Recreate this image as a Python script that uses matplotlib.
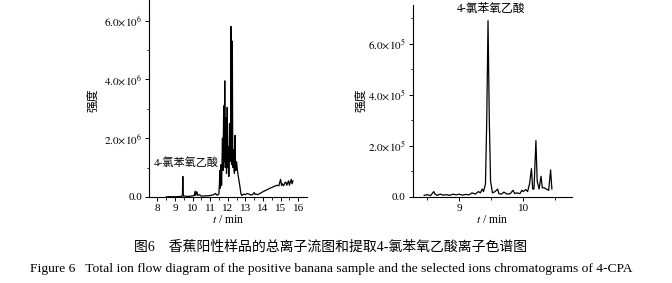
import matplotlib
matplotlib.use("Agg")
import matplotlib.pyplot as plt
from matplotlib.ticker import MultipleLocator, FuncFormatter

plt.rcParams['font.family'] = ['Liberation Serif', 'Noto Sans CJK SC']
plt.rcParams['mathtext.fontset'] = 'stix'

# total ion chromatogram (t in min, intensity in 1e6)
tic_t = [8.5, 8.6, 9.0, 9.4, 9.43, 9.45, 9.47, 9.5, 9.8, 10.1, 10.15, 10.18, 10.2, 10.25,
         10.3, 10.4, 10.5, 10.8, 11.0, 11.2, 11.3, 11.4, 11.5, 11.53, 11.55, 11.58, 11.62,
         11.65, 11.68, 11.7, 11.73, 11.77, 11.8, 11.83, 11.86, 11.88, 11.9, 11.93, 11.95,
         11.97, 12.0, 12.03, 12.06, 12.08, 12.1, 12.13, 12.16, 12.18, 12.2, 12.22, 12.24,
         12.26, 12.28, 12.3, 12.32, 12.34, 12.36, 12.38, 12.4, 12.42, 12.44, 12.46, 12.5,
         12.55, 12.6, 12.68, 12.75, 12.8, 12.9, 13.0, 13.1, 13.2, 13.3, 13.4, 13.5, 13.55,
         13.6, 13.7, 14.0, 14.4, 14.8, 14.9, 14.95, 15.0, 15.05, 15.1, 15.15, 15.2, 15.25,
         15.3, 15.35, 15.4, 15.45, 15.5, 15.55, 15.6, 15.65, 15.7]
tic_i = [0.0, 0.01, 0.01, 0.02, 0.1, 0.7, 0.1, 0.03, 0.02, 0.05, 0.2, 0.06, 0.12, 0.18,
         0.05, 0.08, 0.03, 0.04, 0.05, 0.08, 0.12, 0.06, 0.1, 0.5, 0.9, 0.3, 1.1,
         0.4, 1.4, 2.0, 0.9, 3.1, 1.2, 3.95, 1.0, 1.8, 2.7, 0.8, 1.5,
         3.05, 1.0, 1.7, 0.7, 1.3, 2.5, 1.2, 2.0, 5.8, 1.5, 2.4, 1.1,
         5.3, 1.9, 1.0, 1.4, 1.6, 0.9, 0.8, 1.3, 2.1, 1.0, 0.9, 1.2,
         0.9, 0.7, 0.4, 0.1, 0.05, 0.1, 0.08, 0.12, 0.1, 0.07, 0.08, 0.15, 0.09,
         0.1, 0.08, 0.18, 0.3, 0.4, 0.38, 0.5, 0.6, 0.4, 0.45, 0.38, 0.42, 0.5,
         0.5, 0.4, 0.48, 0.55, 0.4, 0.5, 0.6, 0.45, 0.55]

# extracted ion chromatogram of 4-CPA (intensity in 1e5)
eic_t = [8.45, 8.5, 8.55, 8.6, 8.62, 8.65, 8.7, 8.75, 8.8, 8.85, 8.9, 8.95, 9.0, 9.05,
         9.1, 9.15, 9.2, 9.25, 9.3, 9.33, 9.36, 9.38, 9.41, 9.43, 9.45, 9.47, 9.49, 9.52,
         9.56, 9.6, 9.62, 9.66, 9.7, 9.75, 9.8, 9.84, 9.87, 9.9, 9.95, 9.98, 10.0, 10.04,
         10.07, 10.1, 10.13, 10.15, 10.17, 10.2, 10.22, 10.25, 10.28, 10.3, 10.33, 10.36,
         10.4, 10.43, 10.45]
eic_i = [0.05, 0.08, 0.04, 0.2, 0.1, 0.05, 0.1, 0.06, 0.08, 0.05, 0.1, 0.07, 0.1, 0.06,
         0.09, 0.07, 0.15, 0.1, 0.2, 0.15, 0.3, 0.2, 0.5, 3.0, 6.9, 3.0, 0.6, 0.15,
         0.2, 0.3, 0.12, 0.1, 0.18, 0.1, 0.12, 0.25, 0.12, 0.15, 0.12, 0.25, 0.2, 0.28,
         0.2, 0.5, 1.1, 0.3, 0.3, 2.2, 0.6, 0.3, 0.8, 0.35, 0.35, 0.3,
         0.25, 1.05, 0.3]

compound = "4-氯苯氧乙酸"
ylabel = "强度"
xlabel = r"$\it{t}$ / min"
caption_cn = "图6　香蕉阳性样品的总离子流图和提取4-氯苯氧乙酸离子色谱图"
caption_en = "Figure 6   Total ion flow diagram of the positive banana sample and the selected ions chromatograms of 4-CPA"

fig = plt.figure(figsize=(6.72, 2.83), dpi=100)
ax1 = fig.add_axes([0.2217, 0.3039, 0.2347, 0.6961])
ax2 = fig.add_axes([0.6141, 0.305, 0.2366, 0.676])


def sci_fmt(exp):
    def f(v, pos):
        m = v / 10 ** exp
        if m == 0:
            return "0.0"
        return r"$%.1f{\times}10^{%d}$" % (m, exp)
    return FuncFormatter(f)


def style(ax):
    for s in ['top', 'right']:
        ax.spines[s].set_visible(False)
    for s in ['left', 'bottom']:
        ax.spines[s].set_linewidth(0.8)
    ax.tick_params(axis='both', which='major', direction='out', length=3, width=0.7,
                   labelsize=8, pad=2)
    ax.tick_params(axis='both', which='minor', direction='out', length=1.8, width=0.6)


ax1.plot(tic_t, [v * 1e6 for v in tic_i], color='black', lw=0.9)
ax1.set_xlim(7.53, 16.48)
ax1.set_ylim(0, 6.7e6)
ax1.xaxis.set_major_locator(MultipleLocator(1))
ax1.xaxis.set_minor_locator(MultipleLocator(0.5))
ax1.yaxis.set_major_locator(MultipleLocator(2e6))
ax1.yaxis.set_minor_locator(MultipleLocator(1e6))
ax1.yaxis.set_major_formatter(sci_fmt(6))
style(ax1)
ax1.set_xlabel(xlabel, fontsize=8.5, labelpad=1)
ax1.text(7.8, 1.16e6, compound, fontsize=8, ha='left', va='center')
fig.text(93 / 672, 1 - 100 / 283, ylabel, rotation=90, fontsize=8.5, ha='center', va='center')

ax2.plot(eic_t, [v * 1e5 for v in eic_i], color='black', lw=0.9)
ax2.set_xlim(8.27, 10.76)
ax2.set_ylim(0, 7.5e5)
ax2.xaxis.set_major_locator(MultipleLocator(1))
ax2.xaxis.set_minor_locator(MultipleLocator(0.5))
ax2.yaxis.set_major_locator(MultipleLocator(2e5))
ax2.yaxis.set_minor_locator(MultipleLocator(1e5))
ax2.yaxis.set_major_formatter(sci_fmt(5))
style(ax2)
ax2.set_xlabel(xlabel, fontsize=8.5, labelpad=1)
fig.text(491 / 672, 1 - 9 / 283, compound, fontsize=8.5, ha='center', va='center')
fig.text(361 / 672, 1 - 100 / 283, ylabel, rotation=90, fontsize=8.5, ha='center', va='center')

fig.text(331 / 672, 1 - 247 / 283, caption_cn, fontsize=10, ha='center', va='center')
fig.text(331 / 672, 1 - 269 / 283, caption_en, fontsize=9.7, ha='center', va='center')

fig.savefig("out.png", dpi=100)
